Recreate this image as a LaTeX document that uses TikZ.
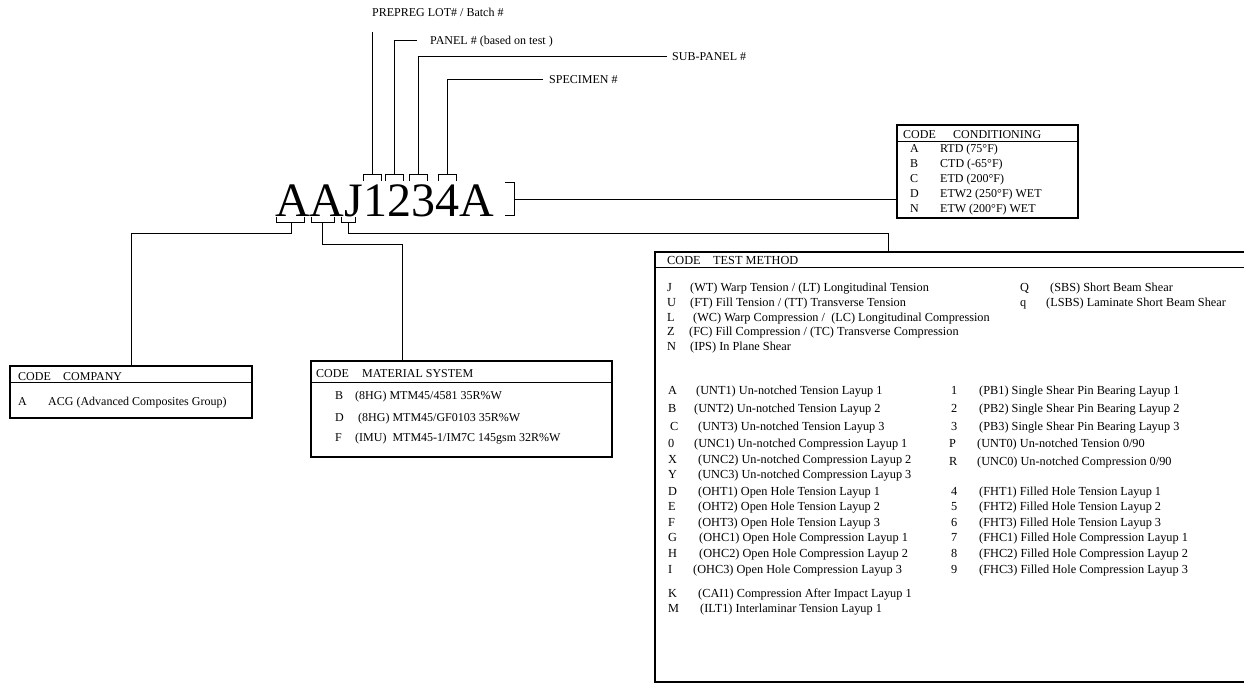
\documentclass[tikz,border=0pt]{standalone}
\usepackage{fontspec}
\setmainfont{Liberation Serif}
\begin{document}
\begin{tikzpicture}[x=1pt,y=-1pt]
\tikzset{
  ln/.style={line width=1.0pt},
  box/.style={draw, line width=1.25pt, inner sep=0pt, outer sep=0pt, anchor=north west},
  lbl/.style={anchor=base west, inner sep=0pt, font=\fontsize{12}{14}\selectfont},
  tml/.style={anchor=base west, inner sep=0pt, font=\fontsize{12.3}{14}\selectfont},
}
\useasboundingbox[fill=white] (0,0) rectangle (1244,684);

% ---------- big code ----------
\node[anchor=base west, inner sep=0pt, font=\fontsize{48}{48}\selectfont] (code) at (275,217) {AAJ1234A};

% ---------- top labels ----------
\node[lbl] (lprep) at (372,17) {PREPREG LOT\# / Batch \#};
\node[lbl] (lpanel) at (430,45) {PANEL \# (based on test )};
\node[lbl] (lsub) at (672,61) {SUB-PANEL \#};
\node[lbl] (lspec) at (549,84) {SPECIMEN \#};

\coordinate (p0) at (372,32);
\coordinate (p1) at (417,41);
\coordinate (p2) at (667,57);
\coordinate (p3) at (543,80);
\coordinate (b1) at (372,175);
\coordinate (b2) at (394,175);
\coordinate (b3) at (418,175);
\coordinate (b4) at (447,175);

\draw[ln] (p0) -- (b1);
\draw[ln] (p1) -| (b2);
\draw[ln] (p2) -| (b3);
\draw[ln] (p3) -| (b4);

% top brackets
\draw[ln] (363,181) -- (363,175) -- (381,175) -- (381,181);
\draw[ln] (385,181) -- (385,175) -- (403,175) -- (403,181);
\draw[ln] (409,181) -- (409,175) -- (427,175) -- (427,181);
\draw[ln] (438,181) -- (438,175) -- (456,175) -- (456,181);

% bottom brackets
\draw[ln] (276,217) -- (276,223) -- (304,223) -- (304,217);
\draw[ln] (311,217) -- (311,223) -- (334,223) -- (334,217);
\draw[ln] (341,217) -- (341,223) -- (355,223) -- (355,217);

% right bracket
\draw[ln] (505,183) -- (514,183) -- (514,216) -- (505,216);

% ---------- boxes ----------
\node[box, minimum width=181pt, minimum height=93pt] (cond) at (897,125) {};
\draw[ln] (897,142) -- (1078,142);
\node[box, minimum width=242pt, minimum height=52pt] (comp) at (10,366) {};
\draw[ln] (10,382) -- (252,382);
\node[box, minimum width=301pt, minimum height=96pt] (mat) at (311,361) {};
\draw[ln] (311,382) -- (612,382);
\node[box, minimum width=600pt, minimum height=430pt] (test) at (655,252) {};
\draw[ln] (655,268) -- (1255,268);

% ---------- connectors ----------
\coordinate (rb) at (514,200);
\draw[ln] (rb) -- (rb -| cond.west);
\coordinate (c1) at (291,223);
\coordinate (c2) at (322,223);
\coordinate (c3) at (348,223);
\coordinate (m1) at (402,361);
\coordinate (t1) at (888,252);
\draw[ln] (c1) -- (291,234) -| (comp.north);
\draw[ln] (c2) -- (322,245) -| (m1);
\draw[ln] (c3) -- (348,234) -| (t1);

% ---------- conditioning ----------
\node[lbl] (cdh1) at (903,139) {CODE};
\node[lbl] (cdh2) at (953,139) {CONDITIONING};
\node[lbl] (cda) at (910,153) {A};
\node[lbl] (cdat) at (940,153) {RTD (75°F)};
\node[lbl] (cdb) at (910,168) {B};
\node[lbl] (cdbt) at (940,168) {CTD (-65°F)};
\node[lbl] (cdc) at (910,183) {C};
\node[lbl] (cdct) at (940,183) {ETD (200°F)};
\node[lbl] (cdd) at (910,198) {D};
\node[lbl] (cddt) at (940,198) {ETW2 (250°F) WET};
\node[lbl] (cdn) at (910,212.5) {N};
\node[lbl] (cdnt) at (940,212.5) {ETW (200°F) WET};

% ---------- company ----------
\node[lbl] (coh1) at (18,380) {CODE};
\node[lbl] (coh2) at (63,380) {COMPANY};
\node[lbl] (coa) at (18,405) {A};
\node[lbl] (coat) at (48,405) {ACG (Advanced Composites Group)};

% ---------- material ----------
\node[lbl] (mah1) at (316,377) {CODE};
\node[lbl] (mah2) at (362,377) {MATERIAL SYSTEM};
\node[lbl] (mab) at (335,399) {B};
\node[lbl] (mabt) at (355,399) {(8HG) MTM45/4581 35R\%W};
\node[lbl] (mad) at (335,421) {D};
\node[lbl] (madt) at (358,421) {(8HG) MTM45/GF0103 35R\%W};
\node[lbl] (maf) at (335,441) {F};
\node[lbl] (maft) at (355,441) {(IMU)\ \ MTM45-1/IM7C 145gsm 32R\%W};

% ---------- test method ----------
\node[tml] (tmh1) at (667,265) {CODE};
\node[tml] (tmh2) at (713,265) {TEST METHOD};

\node[tml] (tj) at (667,292) {J};
\node[tml] (tjt) at (690,292) {(WT) Warp Tension / (LT) Longitudinal Tension};
\node[tml] (tu) at (667,306.5) {U};
\node[tml] (tut) at (690,306.5) {(FT) Fill Tension / (TT) Transverse Tension};
\node[tml] (tl) at (667,321.5) {L};
\node[tml] (tlt) at (693,321.5) {(WC) Warp Compression /\ \ (LC) Longitudinal Compression};
\node[tml] (tz) at (667,336) {Z};
\node[tml] (tzt) at (689,336) {(FC) Fill Compression / (TC) Transverse Compression};
\node[tml] (tn) at (667,350) {N};
\node[tml] (tnt) at (690,350) {(IPS) In Plane Shear};

\node[tml] (tq) at (1020,292) {Q};
\node[tml] (tqt) at (1050,292) {(SBS) Short Beam Shear};
\node[tml] (tqq) at (1020,306.5) {q};
\node[tml] (tqqt) at (1046,306.5) {(LSBS) Laminate Short Beam Shear};

\node[tml] (ta) at (668,394) {A};
\node[tml] (tat) at (696,394) {(UNT1) Un-notched Tension Layup 1};
\node[tml] (tb) at (668,412) {B};
\node[tml] (tbt) at (694,412) {(UNT2) Un-notched Tension Layup 2};
\node[tml] (tc) at (670,430) {C};
\node[tml] (tct) at (698,430) {(UNT3) Un-notched Tension Layup 3};
\node[tml] (t0) at (668,447) {0};
\node[tml] (t0t) at (694,447) {(UNC1) Un-notched Compression Layup 1};
\node[tml] (tx) at (668,463) {X};
\node[tml] (txt) at (698,463) {(UNC2) Un-notched Compression Layup 2};
\node[tml] (ty) at (668,478) {Y};
\node[tml] (tyt) at (698,478) {(UNC3) Un-notched Compression Layup 3};
\node[tml] (td) at (668,495) {D};
\node[tml] (tdt) at (698,495) {(OHT1) Open Hole Tension Layup 1};
\node[tml] (te) at (668,510) {E};
\node[tml] (tet) at (698,510) {(OHT2) Open Hole Tension Layup 2};
\node[tml] (tf) at (668,526) {F};
\node[tml] (tft) at (698,526) {(OHT3) Open Hole Tension Layup 3};
\node[tml] (tg) at (668,541) {G};
\node[tml] (tgt) at (699,541) {(OHC1) Open Hole Compression Layup 1};
\node[tml] (th) at (668,557) {H};
\node[tml] (tht) at (699,557) {(OHC2) Open Hole Compression Layup 2};
\node[tml] (ti) at (668,573) {I};
\node[tml] (tit) at (693,573) {(OHC3) Open Hole Compression Layup 3};
\node[tml] (tk) at (668,597) {K};
\node[tml] (tkt) at (698,597) {(CAI1) Compression After Impact Layup 1};
\node[tml] (tm) at (668,612) {M};
\node[tml] (tmt) at (700,612) {(ILT1) Interlaminar Tension Layup 1};

\node[tml] (r1) at (951,394) {1};
\node[tml] (r1t) at (979,394) {(PB1) Single Shear Pin Bearing Layup 1};
\node[tml] (r2) at (951,412) {2};
\node[tml] (r2t) at (979,412) {(PB2) Single Shear Pin Bearing Layup 2};
\node[tml] (r3) at (951,430) {3};
\node[tml] (r3t) at (979,430) {(PB3) Single Shear Pin Bearing Layup 3};
\node[tml] (rp) at (949,447) {P};
\node[tml] (rpt) at (977,447) {(UNT0) Un-notched Tension 0/90};
\node[tml] (rr) at (949,465) {R};
\node[tml] (rrt) at (977,465) {(UNC0) Un-notched Compression 0/90};
\node[tml] (r4) at (951,495) {4};
\node[tml] (r4t) at (979,495) {(FHT1) Filled Hole Tension Layup 1};
\node[tml] (r5) at (951,510) {5};
\node[tml] (r5t) at (979,510) {(FHT2) Filled Hole Tension Layup 2};
\node[tml] (r6) at (951,526) {6};
\node[tml] (r6t) at (979,526) {(FHT3) Filled Hole Tension Layup 3};
\node[tml] (r7) at (951,541) {7};
\node[tml] (r7t) at (979,541) {(FHC1) Filled Hole Compression Layup 1};
\node[tml] (r8) at (951,557) {8};
\node[tml] (r8t) at (979,557) {(FHC2) Filled Hole Compression Layup 2};
\node[tml] (r9) at (951,573) {9};
\node[tml] (r9t) at (979,573) {(FHC3) Filled Hole Compression Layup 3};
\end{tikzpicture}
\end{document}
